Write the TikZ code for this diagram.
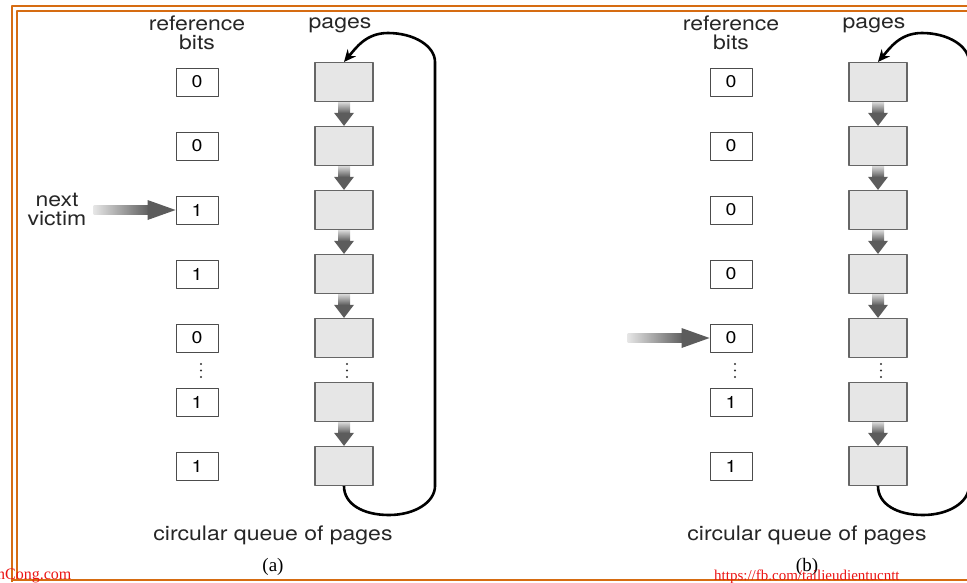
\documentclass[tikz,border=0pt]{standalone}
\usepackage{fontspec}
\setmainfont{TeX Gyre Heros}[FakeStretch=1.15]
\newfontfamily\capfont{Liberation Serif}
\usetikzlibrary{arrows.meta,calc}
\definecolor{myorange}{RGB}{214,108,18}
\definecolor{pagefill}{RGB}{230,230,230}
\definecolor{arrowgray}{RGB}{92,92,92}
\definecolor{markred}{RGB}{235,20,20}

% seta cinza entre duas paginas
\def\pageArrow#1#2{%
  \shade[top color=gray!30, bottom color=gray!75!black]
    ($(#1.south)+(-6,0)$) rectangle ($(#1.south)!0.45!(#2.north)+(6,0)$);
  \fill[arrowgray] ($(#1.south)!0.45!(#2.north)+(-10,0)$) --
    ($(#1.south)!0.45!(#2.north)+(10,0)$) -- (#2.north) -- cycle;
}
% seta do ponteiro (proxima vitima)
\def\victimArrow#1{%
  \shade[left color=gray!20, right color=gray!75!black]
    ($(#1.west)+(-82,-4.5)$) rectangle ($(#1.west)+(-27,4.5)$);
  \fill[arrowgray] ($(#1.west)+(-28,-10)$) -- (#1.west) -- ($(#1.west)+(-28,10)$) -- cycle;
}

\begin{document}
\begin{tikzpicture}[x=1pt, y=-1pt, line join=round,
                    bitbox/.style={draw=black!70, fill=white, line width=0.9pt,
                      minimum width=42pt, minimum height=28pt, inner sep=0pt,
                      font=\fontsize{17}{16}\selectfont},
                    pagebox/.style={draw=black!60, fill=pagefill, line width=1.2pt,
                      minimum width=58pt, minimum height=39pt, inner sep=0pt},
                    heading/.style={font=\fontsize{20}{19}\selectfont, align=center,
                      inner sep=0pt, text=black!85},
                    queue/.style={line width=2.6pt, -{Stealth[length=12pt,width=11pt]}},
                    border/.style={myorange, line width=1.7pt}]
  \useasboundingbox (0,0) rectangle (967,582);

% Moldura
  \draw[border] (12,582) -- (12,6) -- (967,6);
  \draw[border] (17,580) -- (17,11) -- (967,11);
  \draw[border] (12,580) -- (967,580);

% Desenha os dois paineis
  \foreach \p/\ox/\bits/\capt in {a/0/{0,0,1,1,0,1,1}/(a), b/534/{0,0,0,0,0,1,1}/(b)}{
    \node[heading] (\p-refhead) at (197+\ox,33) {reference\\bits};
    \node[heading, anchor=base] (\p-pagehead) at (340+\ox,28) {pages};
    \foreach \b [count=\i, evaluate={\y=18+64*\i;}] in \bits{
      \node[bitbox]  (\p-bit\i)  at (197+\ox,\y) {\b};
      \node[pagebox] (\p-page\i) at (344+\ox,\y) {};
    }
    \foreach \i/\j in {1/2,2/3,3/4,4/5,6/7}{
      \pageArrow{\p-page\i}{\p-page\j}
    }
  % reticencias
    \foreach \d in {0,1,2}{
      \fill[black!80] (201+\ox,364+6.5*\d) circle (1.2pt);
      \fill[black!80] (347+\ox,364+6.5*\d) circle (1.2pt);
    }
  % fila circular
    \coordinate (\p-bottom) at (389+\ox,515);
    \coordinate (\p-rb)     at (435+\ox,486);
    \coordinate (\p-rt)     at (435+\ox,62);
    \coordinate (\p-top)    at (388+\ox,33);
    \draw[queue] (\p-page7.south) .. controls +(0,18) and +(-26,0) .. (\p-bottom)
      .. controls +(26,0) and +(0,16) .. (\p-rb) -- (\p-rt)
      .. controls +(0,-16) and +(26,0) .. (\p-top)
      .. controls +(-22,0) and +(12,-14) .. (\p-page1.north);
    \node[heading] (\p-caption) at (273+\ox,535) {circular queue of pages};
    \node[font=\capfont\fontsize{19}{19}\selectfont, inner sep=0pt] (\p-label) at (273+\ox,567) {\capt};
  }

% ponteiros
  \node[heading] (victim) at (57,209) {next\\victim};
  \victimArrow{a-bit3}
  \victimArrow{b-bit5}

% marcas d'agua
  \node[anchor=base west, inner sep=0pt, text=markred,
        font=\capfont\fontsize{16}{16}\selectfont] (site) at (-3,579) {nCong.com};
  \node[anchor=base west, inner sep=0pt, text=markred,
        font=\capfont\fontsize{15}{15}\selectfont] (fb) at (714,580) {https://fb.com/tailieudientucntt};
\end{tikzpicture}
\end{document}
